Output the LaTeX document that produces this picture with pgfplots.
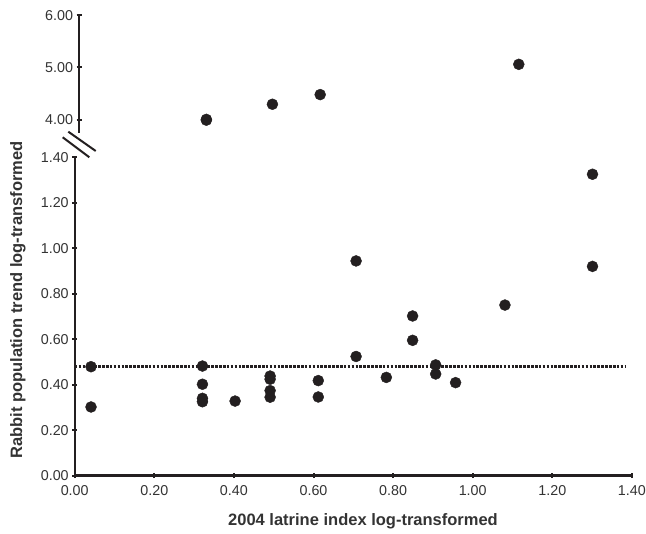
\documentclass[border=0pt]{standalone}
\usepackage{pgfplots}
\pgfplotsset{compat=1.18}
\usepackage{fontspec}
\setmainfont{Liberation Sans}
\definecolor{ink}{HTML}{231F20}
\definecolor{txt}{HTML}{333333}
\begin{document}
\begin{tikzpicture}[x=1pt,y=1pt]
\useasboundingbox (0pt,0pt) rectangle (646pt,534pt);
\pgfplotsset{
 common/.style={
  scale only axis, width=557.2pt, xmin=0, xmax=1.4,
  tick style={ink, line width=2pt},
  major tick length=5pt,
  tick align=outside,
  ticklabel style={font=\fontsize{14.3}{16}\selectfont, text=txt},
  /pgf/number format/fixed,
  /pgf/number format/fixed zerofill,
  /pgf/number format/precision=2,
  /pgf/number format/assume math mode=true,
  clip=false,
 },
 lines/.style={
  axis line style={ink, line width=2.4pt, -},
  every outer x axis line/.append style={-},
  every outer y axis line/.append style={-},
 }
}
% lower segment
\begin{axis}[common, at={(74.7pt,58.3pt)}, anchor=south west, height=318.5pt,
  ymin=0, ymax=1.4,
  axis x line=bottom, axis y line=left, lines,
  xtick={0,0.2,0.4,0.6,0.8,1.0,1.2,1.4},
  ytick={0,0.2,0.4,0.6,0.8,1.0,1.2,1.4},
  xticklabel style={yshift=-4pt},
]
\addplot[ink, line width=2.2pt, dash pattern=on 2.6pt off 1.3pt] coordinates {(0,0.48) (1.383,0.48)};
\addplot[only marks, mark=*, mark size=5.5pt, ink] coordinates {
(0.041,0.479) (0.041,0.302)
(0.321,0.482) (0.321,0.402) (0.321,0.340) (0.321,0.325)
(0.403,0.328)
(0.491,0.438) (0.491,0.424) (0.491,0.374) (0.491,0.345)
(0.612,0.418) (0.612,0.346)
(0.707,0.944) (0.707,0.524)
(0.783,0.432)
(0.849,0.702) (0.849,0.595)
(0.907,0.487) (0.907,0.447)
(0.957,0.409)
(1.081,0.750)
(1.301,1.325) (1.301,0.920)
};
\end{axis}
% upper segment
\begin{axis}[common, at={(79pt,401.3pt)}, anchor=south west, height=117.4pt,
  ymin=3.75, ymax=6,
  axis x line=none, axis y line=left, lines,
  ytick={4,5,6},
]
\addplot[only marks, mark=*, mark size=5.5pt, ink] coordinates {
(0.320,3.99) (0.320,4.005) (0.486,4.295) (0.606,4.48) (1.105,5.06)
};
\end{axis}
\draw[ink, line width=2pt] (68.3pt,402.3pt) -- (95.7pt,383pt);
\draw[ink, line width=2pt] (62.7pt,396.7pt) -- (89.3pt,376.7pt);
\node[font=\bfseries\fontsize{16.5}{19}\selectfont, text=txt] at (363pt,13pt) {2004 latrine index log-transformed};
\node[rotate=90, font=\bfseries\fontsize{16.5}{19}\selectfont, text=txt] at (18pt,234pt) {Rabbit population trend log-transformed};
\end{tikzpicture}
\end{document}
